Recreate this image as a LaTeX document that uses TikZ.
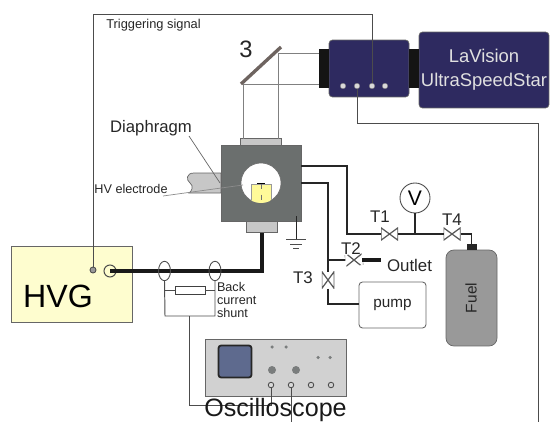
\documentclass[tikz,border=0pt]{standalone}
\usepackage{fontspec}
\setmainfont{Liberation Sans}
\usepackage{xcolor}
\usetikzlibrary{positioning,shapes.geometric}
\definecolor{camblue}{HTML}{2E2A60}
\definecolor{chambergray}{HTML}{6B6F6E}
\definecolor{hvgyellow}{HTML}{FEFDCF}
\definecolor{screenblue}{HTML}{5E6A8E}
\definecolor{txtgray}{HTML}{262626}
\definecolor{mirrorgray}{HTML}{6E6460}
\tikzset{
  box/.style={draw=black!60, line width=0.4pt, inner sep=0pt, outer sep=0pt},
  cam/.style={box, fill=camblue, rounded corners=2pt},
  coupler/.style={fill=black!92, inner sep=0pt, outer sep=0pt, minimum width=0.2cm, minimum height=0.78cm},
  camdot/.style={circle, fill=black!15, draw=black!50, line width=0.2pt, inner sep=0pt, minimum size=0.11cm},
  knob/.style={circle, fill=chambergray!90, inner sep=0pt},
  jack/.style={circle, draw=black!70, fill=black!15, line width=0.5pt, inner sep=0pt, minimum size=0.11cm},
  valve/.style={inner sep=0pt, outer sep=0pt, minimum width=0.34cm, minimum height=0.25cm,
    path picture={\draw[black!65, fill=white, line width=0.7pt]
      (path picture bounding box.north west) -- (path picture bounding box.south east)
      -- (path picture bounding box.north east) -- (path picture bounding box.south west) -- cycle;}},
  pipe/.style={draw=black!85, line width=1.1pt},
  wire/.style={draw=black!70, line width=0.55pt},
  beam/.style={draw=black!50, line width=0.5pt},
  lbl/.style={text=txtgray, inner sep=0pt, outer sep=0pt},
  small/.style={lbl, font=\fontsize{7.2}{8}\selectfont},
  mid/.style={lbl, font=\fontsize{9.6}{11}\selectfont}
}

\begin{document}
\begin{tikzpicture}[x=0.02cm, y=-0.02cm]
  \useasboundingbox (0,0) rectangle (550,422);

  % camera
  \node[cam, minimum width=2.6cm, minimum height=1.52cm, align=center, text=black!12,
    font=\fontsize{10.5}{13.5}\selectfont] (cam) at (484,70) {LaVision\\UltraSpeedStar};
  \node[cam, minimum width=1.6cm, minimum height=1.14cm] (intens) at (369,68.5) {};
  \node[coupler] (cl) at (324,68.5) {};
  \node[coupler] (cr) at (414,68.5) {};
  \node[camdot] (d1) at (343,86) {};
  \node[camdot] (d2) at (357,86) {};
  \node[camdot] (d3) at (372,86) {};
  \node[camdot] (d4) at (385,86) {};

  % mirror and beam
  \coordinate (m1) at (241,84);
  \coordinate (m2) at (281,47);
  \coordinate (b1) at (243,84);
  \coordinate (b2) at (278,53);
  \node[box, fill=black!22, minimum width=0.82cm, minimum height=0.13cm] (win) at (260.5,142) {};
  \draw[beam] (b1) -- (b1 |- win.north);
  \draw[beam] (b2) -- (b2 |- win.north);
  \draw[beam] (b1) -- (b1 -| cl.west);
  \draw[beam] (b2) -- (b2 -| cl.west);
  \draw[draw=mirrorgray, line width=1.9pt] (m1) -- (m2);
  \node[lbl, font=\fontsize{13.5}{15}\selectfont] (three) at (246,49) {3};

  % chamber
  \fill[black!22, draw=black!60, line width=0.4pt] (221,173) -- (194,173)
    .. controls (186,173) and (186,180) .. (190,183)
    .. controls (194,186) and (192,191) .. (189,193) -- (221,193) -- cycle;
  \node[box, fill=black!22, minimum width=0.62cm, minimum height=0.22cm] (base) at (261.5,227) {};
  \node[box, fill=chambergray, minimum width=1.6cm, minimum height=1.52cm] (chamber) at (261,183) {};
  \node[circle, fill=white, draw=black!60, line width=0.3pt, inner sep=0pt, minimum size=0.8cm] (port) at (261,183) {};
  \begin{scope}
    \clip (261,183) circle (20);
    \fill[fill=yellow!40, draw=black!40, line width=0.2pt] (251,184) rectangle (271,204);
    \draw[black!55, dashed, line width=0.5pt] (261,184) -- (261,204);
    \draw[black, line width=1pt] (257,183.5) -- (265,183.5);
  \end{scope}

  % labels with leader lines
  \node[lbl, font=\fontsize{9.5}{11}\selectfont] (diaph) at (151,128) {Diaphragm};
  \coordinate (dtip) at (220,183);
  \draw[draw=black!60, line width=0.4pt] (189,136) -- (dtip);
  \node[small] (hv) at (131,189) {HV electrode};
  \coordinate (htip) at (243,185);
  \draw[draw=black!45, line width=0.4pt] (163,196) -- (htip);

  % HVG
  \node[box, fill=hvgyellow, minimum width=2.41cm, minimum height=1.52cm] (hvg) at (72,284) {};
  \node[lbl, font=\fontsize{18.3}{20}\selectfont, text=black] (hvgtxt) at (58,296) {HVG};
  \node[circle, draw=black!70, fill=hvgyellow, line width=0.6pt, inner sep=0pt, minimum size=0.24cm] (coax) at (110,271) {};
  \node[jack, fill=black!40, minimum size=0.12cm] (trig) at (93,270) {};
  \coordinate (ca) at (372,14);
  \draw[wire] (trig) |- (ca) -- (d3);
  \node[lbl, font=\fontsize{7.3}{9}\selectfont] (trigtxt) at (153.5,25) {Triggering signal};

  % cable and shunt
  \coordinate (cb) at (262,271);
  \draw[draw=black!90, line width=2pt] (coax.center) -- (cb) -- (base.south -| cb);
  \node[ellipse, draw=black!70, line width=0.5pt, inner sep=0pt, minimum width=0.24cm, minimum height=0.39cm] (ovl) at (164.5,271) {};
  \node[ellipse, draw=black!70, line width=0.5pt, inner sep=0pt, minimum width=0.24cm, minimum height=0.39cm] (ovr) at (215,271) {};
  \node[box, draw=black!75, fill=white, line width=0.5pt, minimum width=0.6cm, minimum height=0.16cm] (res) at (190,290) {};
  \coordinate (sl) at (165,316);
  \coordinate (sr) at (215,316);
  \coordinate (st) at (189,316);
  \draw[wire] (ovl.south) -- (sl) -- (sr) -- (ovr.south);
  \draw[wire] (res.west) -- (res.west -| sl);
  \draw[wire] (res.east) -- (res.east -| sr);
  \node[small, align=left, anchor=west, font=\fontsize{7.2}{7.4}\selectfont] (shunt) at (217,300) {Back\\current\\shunt};

  % oscilloscope
  \node[box, fill=black!18, minimum width=2.82cm, minimum height=1.14cm] (osc) at (275.5,367.5) {};
  \node[box, draw=black!85, fill=screenblue, line width=1pt, rounded corners=1.5pt, minimum width=0.66cm, minimum height=0.64cm] (scr) at (235,361.5) {};
  \node[knob, minimum size=0.07cm] (k1) at (272,347) {};
  \node[knob, minimum size=0.07cm] (k2) at (286,347) {};
  \node[knob, minimum size=0.07cm] (k3) at (318,357.5) {};
  \node[knob, minimum size=0.07cm] (k4) at (330,357.5) {};
  \node[knob, minimum size=0.16cm] (k5) at (272,370) {};
  \node[knob, minimum size=0.16cm] (k6) at (296,370) {};
  \node[jack] (j1) at (271,385) {};
  \node[jack] (j2) at (291,385) {};
  \node[jack, fill=none] (j3) at (311,385) {};
  \node[jack, fill=none] (j4) at (331,385) {};
  \coordinate (oa) at (189,405);
  \coordinate (ob) at (291,422);
  \draw[wire] (st) -- (oa) -| (j1);
  \draw[wire] (j2) -- (ob);
  \node[lbl, anchor=base, font=\fontsize{14.3}{16}\selectfont, text=black!90] (osctxt) at (275.5,416.5) {Oscilloscope};

  % second camera wire
  \coordinate (w1) at (538,123);
  \coordinate (w2) at (538,422);
  \draw[wire] (d2) |- (w1) -- (w2);

  % gas lines
  \coordinate (p1) at (301,166);
  \coordinate (p2) at (301,183);
  \coordinate (a1) at (347,234);
  \coordinate (a2) at (328,260);
  \coordinate (a3) at (328,304);
  \coordinate (a4) at (415,234);
  \coordinate (a5) at (471.5,234);
  \node[valve] (T1) at (389.5,234) {};
  \node[valve] (T4) at (452,234) {};
  \node[valve, rotate=10] (T2) at (354,260) {};
  \node[valve, rotate=90] (T3) at (328,280) {};
  \node[circle, draw=black!70, fill=white, line width=0.5pt, inner sep=0pt, minimum size=0.6cm,
    font=\fontsize{12}{14}\selectfont] (V) at (415,198) {V};
  \node[box, fill=black!40, draw=black!60, rounded corners=4.5pt, minimum width=1.02cm, minimum height=1.92cm] (fuel) at (471.5,298) {};
  \node[lbl, rotate=90, font=\fontsize{8.8}{10}\selectfont] (fueltxt) at (471,298) {Fuel};
  \node[fill=black!85, inner sep=0pt, outer sep=0pt, minimum width=0.2cm, minimum height=0.12cm] (cap) at (472,247) {};
  \node[box, fill=white, line width=0.5pt, rounded corners=2pt, minimum width=1.34cm, minimum height=0.92cm,
    text=txtgray, font=\fontsize{8.7}{10}\selectfont, xshift=0.02cm] (pump) at (391.5,305) {pump};
  \draw[pipe] (p1) -| (a1) -- (T1);
  \draw[pipe] (T1) -- (T4);
  \draw[pipe] (T4) -- (a5) -- (cap.north -| a5);
  \draw[pipe] (V) -- (a4);
  \draw[pipe] (p2) -| (a2) -- (T3);
  \draw[pipe] (a2) -- (T2);
  \draw[pipe] (T3) -- (a3) -- (a3 -| pump.west);
  \node[coordinate] (outl) at (381,260) {};
  \draw[draw=black!90, line width=1.9pt] (362,260) -- (outl);
  \node[mid, anchor=west] (outtxt) at (387,265) {Outlet};
  \node[mid] (T1txt) at (380,217) {T1};
  \node[mid] (T2txt) at (351,249) {T2};
  \node[mid] (T3txt) at (303,278) {T3};
  \node[mid] (T4txt) at (452,220) {T4};

  % ground
  \coordinate (g0) at (296,216);
  \coordinate (g1) at (296,239);
  \draw[wire, draw=black!85] (g0) -- (g1);
  \draw[wire] (286,239) -- (306,239);
  \draw[wire] (290,244) -- (302,244);
  \draw[wire] (293,248) -- (299,248);
\end{tikzpicture}
\end{document}
